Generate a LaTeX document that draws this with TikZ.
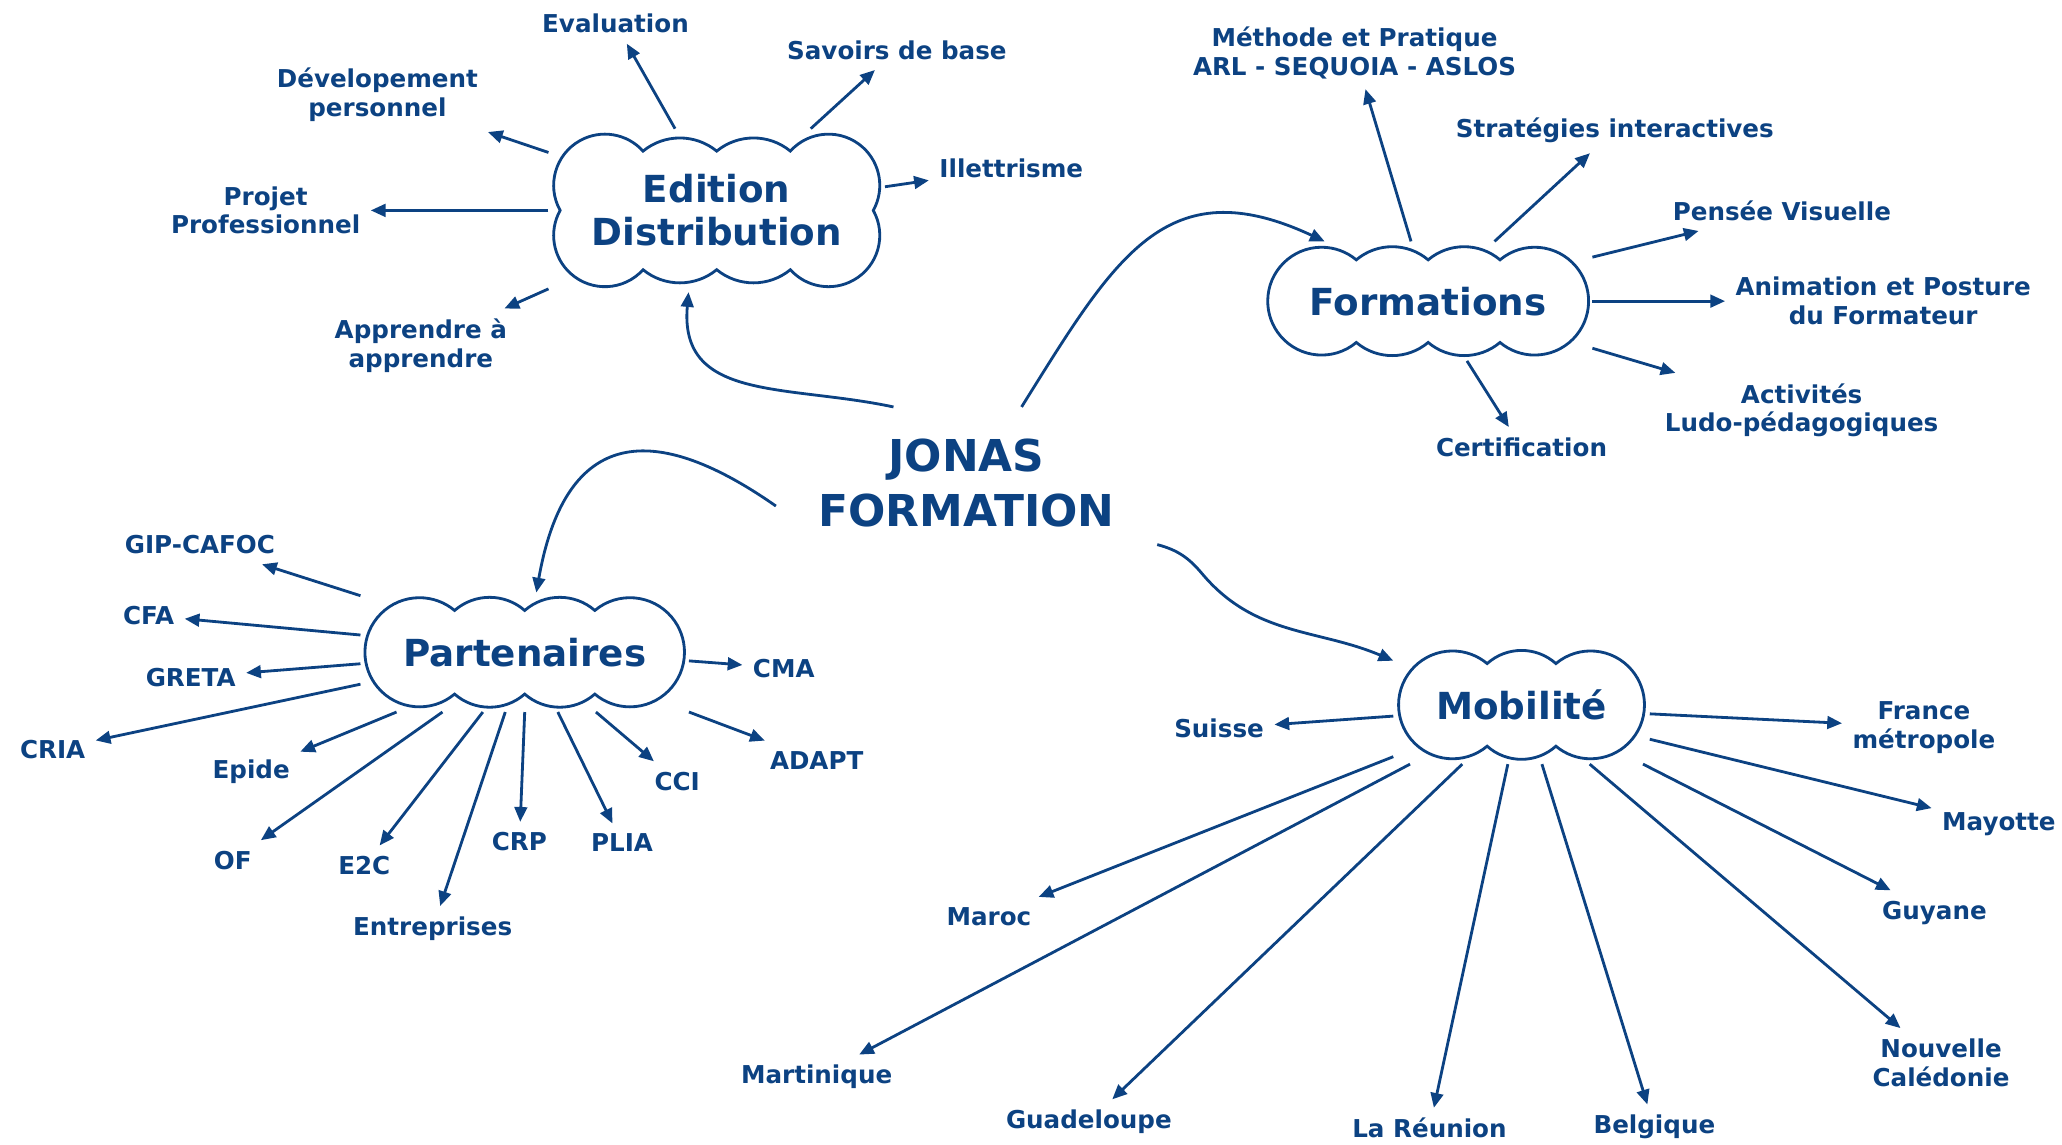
\documentclass[tikz,border=0pt]{standalone}
\usepackage{fontspec}
\setmainfont{DejaVu Sans}
\usetikzlibrary{
  arrows.meta,
}
\definecolor{jfblue}{RGB}{12, 66, 130}
\tikzset{
  >={Triangle[length=4.2pt, width=3.6pt]},
  link/.style={->, draw=jfblue, line width=0.8pt},
  outline/.style={draw=jfblue, line width=0.8pt},
  leaf/.style={text=jfblue, font=\bfseries\fontsize{7}{8.2}\selectfont, align=center, inner sep=1.5pt, outer sep=1.5pt},
  hub/.style={text=jfblue, font=\bfseries\fontsize{10.6}{12.3}\selectfont, align=center, inner sep=0pt, outer sep=1.5pt},
}

% cloud outline: x, y, half gap of end lobes, lobe radius, half stack, dip angle, middle puffs
\newcommand{\puffs}[7]{%
  \pgfmathsetmacro{\pfx}{#1-#3+#4*cos(#6)}
  \pgfmathsetmacro{\pfy}{#2+#5+#4*sin(#6)}
  \pgfmathsetmacro{\pfc}{(2*#3-2*#4*cos(#6))/#7}
  \pgfmathsetmacro{\pfr}{(\pfc*\pfc/4+100)/20}
  \pgfmathsetmacro{\pfa}{asin(\pfc/(2*\pfr))}
  \pgfmathsetmacro{\pfs}{asin(#5/#4)}
  \draw [outline] (\pfx, \pfy)
    \foreach \k in {1, ..., #7} {arc [start angle=90+\pfa, end angle=90-\pfa, radius=\pfr]}
    arc [start angle=180-#6, end angle=-\pfs, radius=#4]
    arc [start angle=\pfs, end angle=-180+#6, radius=#4]
    \foreach \k in {1, ..., #7} {arc [start angle=-90+\pfa, end angle=-90-\pfa, radius=\pfr]}
    arc [start angle=-#6, end angle=-180-\pfs, radius=#4]
    arc [start angle=180+\pfs, end angle=#6, radius=#4]
    -- cycle;
}

\begin{document}
\begin{tikzpicture}[x=0.01315cm, y=0.01315cm]
  \useasboundingbox (0, 0) rectangle (1568, -870);

  \node [text=jfblue, font=\bfseries\fontsize{12.5}{15.7}\selectfont, align=center, minimum width=3.8cm, minimum height=1.5cm] (jonas) at (735, -367) {JONAS\\FORMATION};

  % clouds
  \node [hub, minimum width=3.26cm, minimum height=1.53cm] (edition) at (545, -160) {Edition\\Distribution};
  \node [hub, minimum width=3.18cm, minimum height=1.09cm] (formations) at (1086, -229) {Formations};
  \node [hub, minimum width=3.18cm, minimum height=1.09cm] (partenaires) at (399, -496) {Partenaires};
  \node [hub, minimum width=2.46cm, minimum height=1.08cm] (mobilite) at (1157, -536) {Mobilité};
  \puffs{545}{-160}{85}{39}{19}{42}{2}
  \puffs{1086}{-229}{81}{41}{0}{50}{2}
  \puffs{399}{-496}{80}{41.5}{0}{50}{2}
  \puffs{1157}{-536}{52.5}{41}{0}{50}{1}

  \node [leaf] (eval) at (468, -18) {Evaluation};
  \node [leaf] (savoirs) at (682, -38) {Savoirs de base};
  \node [leaf] (devel) at (287, -72) {Dévelopement\\personnel};
  \node [leaf] (illet) at (769, -128) {Illettrisme};
  \node [leaf] (projet) at (202, -160) {Projet\\Professionnel};
  \node [leaf] (apprendre) at (320, -263) {Apprendre à\\apprendre};

  \node [leaf] (methode) at (1030, -40) {Méthode et Pratique\\ARL - SEQUOIA - ASLOS};
  \node [leaf] (strat) at (1228, -99) {Stratégies interactives};
  \node [leaf] (pensee) at (1355, -160) {Pensée Visuelle};
  \node [leaf] (anim) at (1432, -229) {Animation et Posture\\du Formateur};
  \node [leaf] (ludo) at (1370, -312) {Activités\\Ludo-pédagogiques};
  \node [leaf] (certif) at (1157, -340) {Certification};

  \node [leaf] (gip) at (152, -414) {GIP-CAFOC};
  \node [leaf] (cfa) at (113, -468) {CFA};
  \node [leaf] (greta) at (145, -515) {GRETA};
  \node [leaf] (cria) at (40, -570) {CRIA};
  \node [leaf] (epide) at (191, -587) {Epide};
  \node [leaf] (of) at (177, -654) {OF};
  \node [leaf] (e2c) at (277, -658) {E2C};
  \node [leaf] (entr) at (329, -706) {Entreprises};
  \node [leaf] (crp) at (395, -640) {CRP};
  \node [leaf] (plia) at (473, -641) {PLIA};
  \node [leaf] (cci) at (515, -594) {CCI};
  \node [leaf] (adapt) at (621, -578) {ADAPT};
  \node [leaf] (cma) at (596, -508) {CMA};

  \node [leaf] (suisse) at (927, -554) {Suisse};
  \node [leaf] (france) at (1463, -553) {France\\métropole};
  \node [leaf] (mayotte) at (1520, -627) {Mayotte};
  \node [leaf] (guyane) at (1471, -694) {Guyane};
  \node [leaf] (caledonie) at (1476, -808) {Nouvelle\\Calédonie};
  \node [leaf] (belgique) at (1258, -857) {Belgique};
  \node [leaf] (reunion) at (1087, -858) {La Réunion};
  \node [leaf] (guadeloupe) at (828, -853) {Guadeloupe};
  \node [leaf] (martinique) at (621, -819) {Martinique};
  \node [leaf] (maroc) at (752, -697) {Maroc};

  % spokes
  \foreach \a/\n in {117/eval, 41/savoirs, 161/devel, 8/illet, 180/projet, 205/apprendre}
    \draw [link] (edition.\a) -- (\n);
  \foreach \a/\n in {106/methode, 42/strat, 15/pensee, 0/anim, 344/ludo, 303/certif}
    \draw [link] (formations.\a) -- (\n);
  \foreach \a/\n in {161/gip, 174/cfa, 184/greta, 191/cria, 205/epide, 216/of, 235/e2c, 252/entr, 270/crp, 299/plia, 320/cci, 340/adapt, 357/cma}
    \draw [link] (partenaires.\a) -- (\n);
  \foreach \a/\n in {185/suisse, 356/france, 345/mayotte, 334/guyane, 319/caledonie, 289/belgique, 257/reunion, 225/guadeloupe, 208/martinique, 202/maroc}
    \draw [link] (mobilite.\a) -- (\n);

  % from the centre
  \draw [link] (jonas.134) to [out=168, in=-95, looseness=1.2] (edition.251);
  \draw [link] (jonas.54) to [out=58, in=155, looseness=1.3] (formations.150);
  \draw [link] (jonas.187) to [out=145, in=80, looseness=1.6] (partenaires.79);
  \draw [link] (jonas.342) to [out=-15, in=130] ++(34, -22) to [out=-50, in=157] (mobilite.161);
\end{tikzpicture}
\end{document}
